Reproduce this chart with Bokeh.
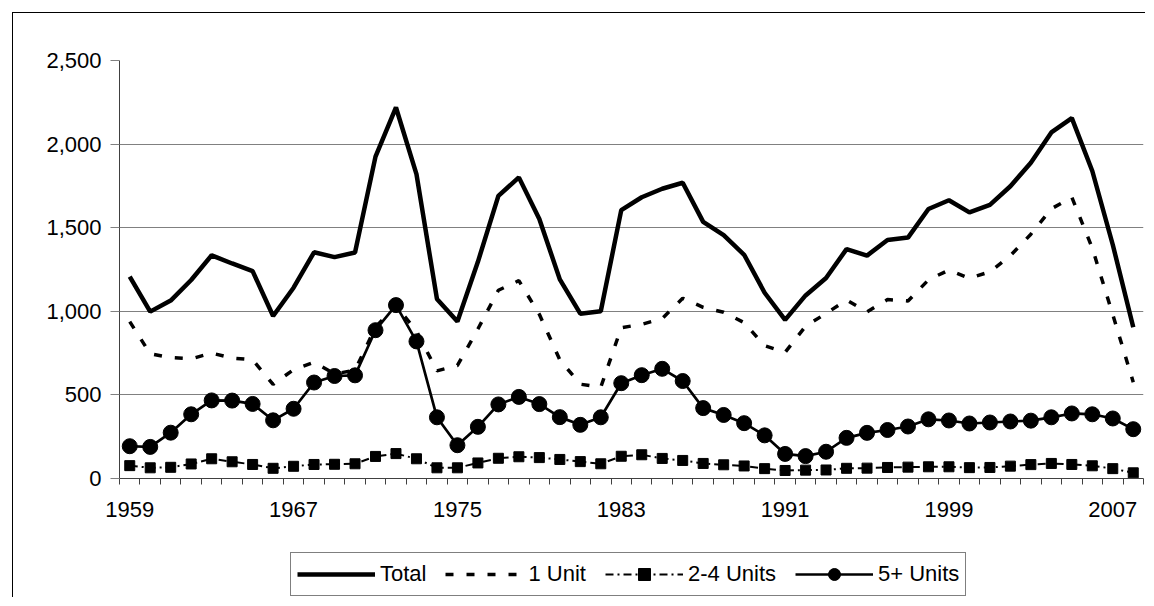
from bokeh.plotting import figure
from bokeh.layouts import column
from bokeh.models import Range1d, FixedTicker, NumeralTickFormatter, Legend, LegendItem
from bokeh.embed import file_html
from bokeh.resources import INLINE

years = list(range(1959, 2009))
total = [1208, 998, 1064, 1187, 1335, 1286, 1240, 972, 1141, 1353,
         1324, 1352, 1925, 2219, 1820, 1074, 939, 1296, 1690, 1801,
         1552, 1191, 986, 1000, 1605, 1682, 1733, 1769, 1535, 1456,
         1338, 1111, 949, 1095, 1199, 1372, 1333, 1426, 1441, 1612,
         1664, 1592, 1637, 1748, 1889, 2070, 2155, 1839, 1398, 905]
one_unit = [938, 746, 723, 716, 750, 720, 710, 563, 651, 695,
            626, 647, 906, 1033, 882, 644, 676, 894, 1126, 1183,
            982, 710, 564, 546, 902, 922, 957, 1078, 1024, 994,
            932, 794, 754, 911, 987, 1068, 997, 1070, 1062, 1188,
            1247, 1198, 1236, 1333, 1461, 1613, 1682, 1378, 980, 576]
two_four = [77, 64, 67, 87, 118, 100, 84, 61, 73, 84,
            85, 88, 132, 149, 118, 64, 64, 93, 121, 130,
            125, 114, 101, 88, 133, 142, 120, 108, 90, 82,
            75, 59, 48, 50, 51, 61, 62, 66, 68, 70,
            70, 65, 66, 74, 83, 90, 84, 76, 59, 34]
five_plus = [193, 189, 274, 384, 467, 466, 446, 348, 417, 574,
             613, 617, 887, 1037, 820, 366, 199, 309, 443, 488,
             445, 367, 321, 366, 570, 618, 656, 583, 421, 380,
             331, 258, 147, 134, 160, 243, 273, 290, 311, 354,
             347, 329, 335, 341, 346, 366, 389, 384, 359, 295]
series_names = ["Total", "1 Unit", "2-4 Units", "5+ Units"]
x_tick_years = [1959, 1967, 1975, 1983, 1991, 1999, 2007]
x_tick_labels = ["1959", "1967", "1975", "1983", "1991", "1999", "2007"]
y_ticks = [0, 500, 1000, 1500, 2000, 2500]

FONT = "Liberation Sans"
FS = "22px"

STYLE = {
    "total": dict(line_color="black", line_width=4.5),
    "one": dict(line_color="black", line_width=3.5, line_dash="8 13"),
    "two_l": dict(line_color="black", line_width=2, line_dash="8 4 2 4"),
    "two_m": dict(marker="square", size=10, color="black"),
    "five_l": dict(line_color="black", line_width=2.7),
    "five_m": dict(marker="circle", size=15, color="black"),
}

# ---- main chart ----
p = figure(width=1132, height=519, output_backend="svg", toolbar_location=None,
           x_range=Range1d(years[0] - 0.5, years[-1] + 0.5), y_range=Range1d(0, 2500),
           min_border_left=106, min_border_right=2, min_border_top=47, min_border_bottom=54)
p.outline_line_color = None
p.background_fill_color = "white"
p.border_fill_color = "white"

xa = p.xaxis[0]
xa.ticker = FixedTicker(ticks=x_tick_years,
                        minor_ticks=[y - 0.5 for y in years] + [years[-1] + 0.5])
xa.major_label_overrides = {y: s for y, s in zip(x_tick_years, x_tick_labels)}
xa.major_tick_line_color = None
xa.major_tick_out = 0
xa.major_tick_in = 0
xa.minor_tick_out = 6
xa.minor_tick_in = 0
xa.minor_tick_line_color = "#404040"
xa.axis_line_color = "#404040"
xa.major_label_standoff = 17
xa.major_label_text_font = FONT
xa.major_label_text_font_size = FS
xa.major_label_text_color = "black"

ya = p.yaxis[0]
ya.ticker = FixedTicker(ticks=y_ticks)
ya.formatter = NumeralTickFormatter(format="0,0")
ya.major_tick_out = 9
ya.major_tick_in = 0
ya.major_tick_line_color = "#808080"
ya.minor_tick_line_color = None
ya.axis_line_color = "#404040"
ya.major_label_standoff = 9
ya.major_label_text_font = FONT
ya.major_label_text_font_size = FS
ya.major_label_text_color = "black"

p.xgrid.grid_line_color = None
p.ygrid.ticker = FixedTicker(ticks=y_ticks)
p.ygrid.grid_line_color = "#808080"
p.ygrid.grid_line_width = 1

p.line(years, total, **STYLE["total"])
p.line(years, one_unit, **STYLE["one"])
p.line(years, two_four, **STYLE["two_l"])
p.scatter(years, two_four, **STYLE["two_m"])
p.line(years, five_plus, **STYLE["five_l"])
p.scatter(years, five_plus, **STYLE["five_m"])

# ---- legend strip (series drawn off-view so only the legend shows) ----
q = figure(width=1132, height=45, output_backend="svg", toolbar_location=None,
           x_axis_location=None, y_axis_location=None,
           x_range=Range1d(0, 1), y_range=Range1d(0, 1),
           min_border_left=106, min_border_right=2, min_border_top=0, min_border_bottom=0)
q.outline_line_color = None
q.xgrid.visible = False
q.ygrid.visible = False
q.margin = (20, 0, 0, 0)
l_total = q.line(years, total, **STYLE["total"])
l_one = q.line(years, one_unit, **STYLE["one"])
l_two_l = q.line(years, two_four, **STYLE["two_l"])
l_two_m = q.scatter(years, two_four, **STYLE["two_m"])
l_five_l = q.line(years, five_plus, **STYLE["five_l"])
l_five_m = q.scatter(years, five_plus, **STYLE["five_m"])

legend = Legend(items=[
    LegendItem(label=series_names[0], renderers=[l_total]),
    LegendItem(label=series_names[1], renderers=[l_one]),
    LegendItem(label=series_names[2], renderers=[l_two_l, l_two_m]),
    LegendItem(label=series_names[3], renderers=[l_five_l, l_five_m]),
], orientation="horizontal", location=(171, 1), glyph_width=78, glyph_height=30,
   label_standoff=5, spacing=19, padding=6, margin=0,
   border_line_color="black", border_line_width=1,
   label_text_font=FONT, label_text_font_size=FS, label_text_color="black",
   background_fill_color="white", background_fill_alpha=1)
q.add_layout(legend)

layout = column(p, q)
layout.margin = (12, 0, 0, 12)
layout.styles = {"border-top": "1px solid #000", "border-left": "1px solid #000"}

open("out.html", "w").write(file_html(layout, INLINE))
